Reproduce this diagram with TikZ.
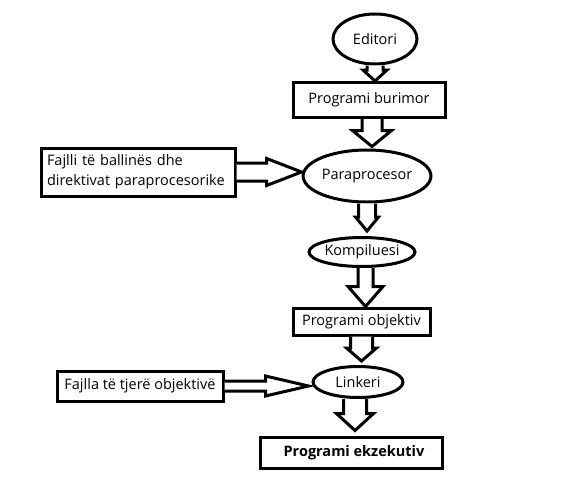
\documentclass[tikz,border=0pt]{standalone}
\usepackage{fontspec}
\setmainfont{Open Sans}
\usetikzlibrary{calc,shapes}
\tikzset{
  every node/.style={font=\fontsize{14.5}{18}\selectfont},
  blk/.style={draw,line width=3pt,rectangle,inner sep=0pt},
  oval/.style={draw,line width=3pt,ellipse,inner sep=0pt},
  fat/.style={draw,line width=3pt,fill=white,line join=miter},
}
% start, tip, shaft half width, head half width, head length (in pt)
\newcommand\fatarrow[5]{%
  \coordinate(s)at(#1);\coordinate(e)at(#2);
  \coordinate(h)at($(e)!#5pt!(s)$);
  \draw[fat]($(s)!#3pt!90:(e)$)--($(h)!#3pt!90:(e)$)--($(h)!#4pt!90:(e)$)--(e)
    --($(h)!#4pt!-90:(e)$)--($(h)!#3pt!-90:(e)$)--($(s)!#3pt!-90:(e)$);
}
\begin{document}
\begin{tikzpicture}[x=1pt,y=-1pt]
  \useasboundingbox(0,0)rectangle(585,487);
  \node[oval,minimum width=84,minimum height=50](editori)at(375,39){Editori};
  \node[blk,minimum width=152,minimum height=35](burimor)at(369,100){Programi burimor};
  \node[oval,minimum width=124,minimum height=52](paraproc)at(367,176){Paraprocesor};
  \node[blk,minimum width=194,minimum height=48,text width=182,align=left](fajlli)at(138,172)
    {Fajlli të ballinës dhe\\[2pt]direktivat paraprocesorike};
  \node[oval,minimum width=99,minimum height=29](kompil)at(362,252){Kompiluesi};
  \node[blk,minimum width=137,minimum height=27](objektiv)at(361.5,321.5){Programi objektiv};
  \node[oval,minimum width=90,minimum height=31](linkeri)at(358,382){Linkeri};
  \node[blk,minimum width=166,minimum height=30](fajlla)at(140,386){Fajlla të tjerë objektivë};
  \node[blk,minimum width=182,minimum height=31](ekzekutiv)at(351,452.5){\hspace{6pt}\bfseries Programi ekzekutiv};
  \fatarrow{editori.south}{editori.south|-burimor.north}{8}{12}{11}
  \fatarrow{$(burimor.south)+(3,0)$}{$(burimor.south|-paraproc.north)+(3,-2)$}{10}{19.5}{16}
  \fatarrow{fajlli.east}{fajlli.east-|paraproc.west}{9}{13.5}{35}
  \fatarrow{paraproc.south}{$(paraproc.south|-kompil.north)+(0,-5)$}{8.5}{11.5}{14}
  \fatarrow{$(kompil.south)+(3.5,0)$}{$(kompil.south|-objektiv.north)+(3.5,0)$}{7.5}{17.5}{20}
  \fatarrow{objektiv.south}{$(objektiv.south|-linkeri.north)+(0,-4)$}{11}{15}{13}
  \fatarrow{fajlla.east}{$(fajlla.east-|linkeri.west)+(-3,0)$}{5}{10}{43}
  \fatarrow{$(linkeri.south)+(-3,0)$}{$(linkeri.south|-ekzekutiv.north)+(-3,-5)$}{11.5}{18.5}{17}
\end{tikzpicture}
\end{document}
